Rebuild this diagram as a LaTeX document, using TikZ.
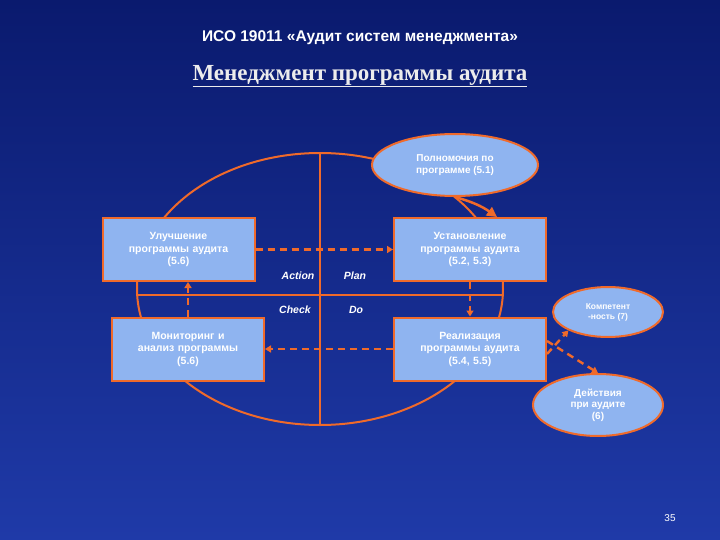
\documentclass[tikz,border=0pt]{standalone}
\usepackage{fontspec}
\setmainfont{Liberation Sans}
\newfontfamily\serifru{Liberation Serif}
\usetikzlibrary{shapes.geometric,arrows.meta}
\definecolor{bgA}{HTML}{0A1A6E}
\definecolor{bgB}{HTML}{1F3AA8}
\definecolor{org}{HTML}{F06A2A}
\definecolor{boxf}{HTML}{8FB4F0}
\tikzset{
 box/.style={draw=org,line width=2pt,fill=boxf,minimum width=152pt,minimum height=63pt,text width=148pt,align=center,font=\fontsize{10.5}{12.5}\selectfont\bfseries,text=white,inner sep=0pt},
 oval/.style={ellipse,draw=org,line width=2pt,fill=boxf,align=center,font=\fontsize{10}{11.5}\selectfont\bfseries,text=white,inner sep=0pt},
 dar/.style={draw=org,line width=2.4pt,dash pattern=on 7pt off 5pt,-{Triangle[length=6pt,width=7pt]}},
 lab/.style={font=\fontsize{10.5}{12}\selectfont\bfseries\itshape,text=white}
}
\begin{document}
\begin{tikzpicture}[x=1pt,y=-1pt]
\useasboundingbox (0,0) rectangle (720,540);
\shade[top color=bgA,bottom color=bgB] (0,0) rectangle (720,540);
\node[text=white,font=\fontsize{15.5}{18}\selectfont\bfseries] (t1) at (360,38) {ИСО 19011 «Аудит систем менеджмента»};
\node[text=white!85!gray,font=\serifru\fontsize{23}{25}\selectfont\bfseries] (t2) at (360,76) {\underline{Менеджмент программы аудита}};
\draw[org,line width=2pt] (320,289) ellipse (183 and 136);
\draw[org,line width=1.5pt] (137,295) -- (502,295);
\draw[org,line width=1.5pt] (320,153) -- (320,425);
\node[box] (imp) at (178.5,249.5) {Улучшение\\программы аудита\\(5.6)};
\node[box] (est) at (470,249.5) {Установление\\программы аудита\\(5.2, 5.3)};
\node[box] (mon) at (188,349) {Мониторинг и\\анализ программы\\(5.6)};
\node[box] (rea) at (470,349) {Реализация\\программы аудита\\(5.4, 5.5)};
\node[oval,minimum width=166,minimum height=62] (pol) at (455,165) {Полномочия по\\программе (5.1)};
\node[oval,minimum width=110,minimum height=50,font=\fontsize{8.5}{10}\selectfont\bfseries] (kom) at (608,312) {Компетент\\-ность (7)};
\node[oval,minimum width=130,minimum height=62] (dei) at (598,405) {Действия\\при аудите\\(6)};
\node[lab] (a1) at (298,276) {Action};
\node[lab] (a2) at (355,276) {Plan};
\node[lab] (a3) at (295,310) {Check};
\node[lab] (a4) at (356,310) {Do};
\node[text=white,font=\fontsize{10}{11}\selectfont] (pg) at (670,518) {35};
\draw[dar] (imp.east) -- (est.west);
\draw[dar] (est.south) -- (rea.north);
\draw[dar] (rea.west) -- (mon.east);
\draw[dar] (mon.north) -- (mon.north |- imp.south);
\draw[org,line width=2.5pt,-{Triangle[length=10pt,width=10pt]}] (pol.south) to[bend left=10] ([xshift=-50pt]est.north east);
\draw[dar] ([yshift=-5pt]rea.east) -- (kom.south west);
\draw[dar] ([yshift=8pt]rea.east) -- (dei.north);
\end{tikzpicture}
\end{document}
